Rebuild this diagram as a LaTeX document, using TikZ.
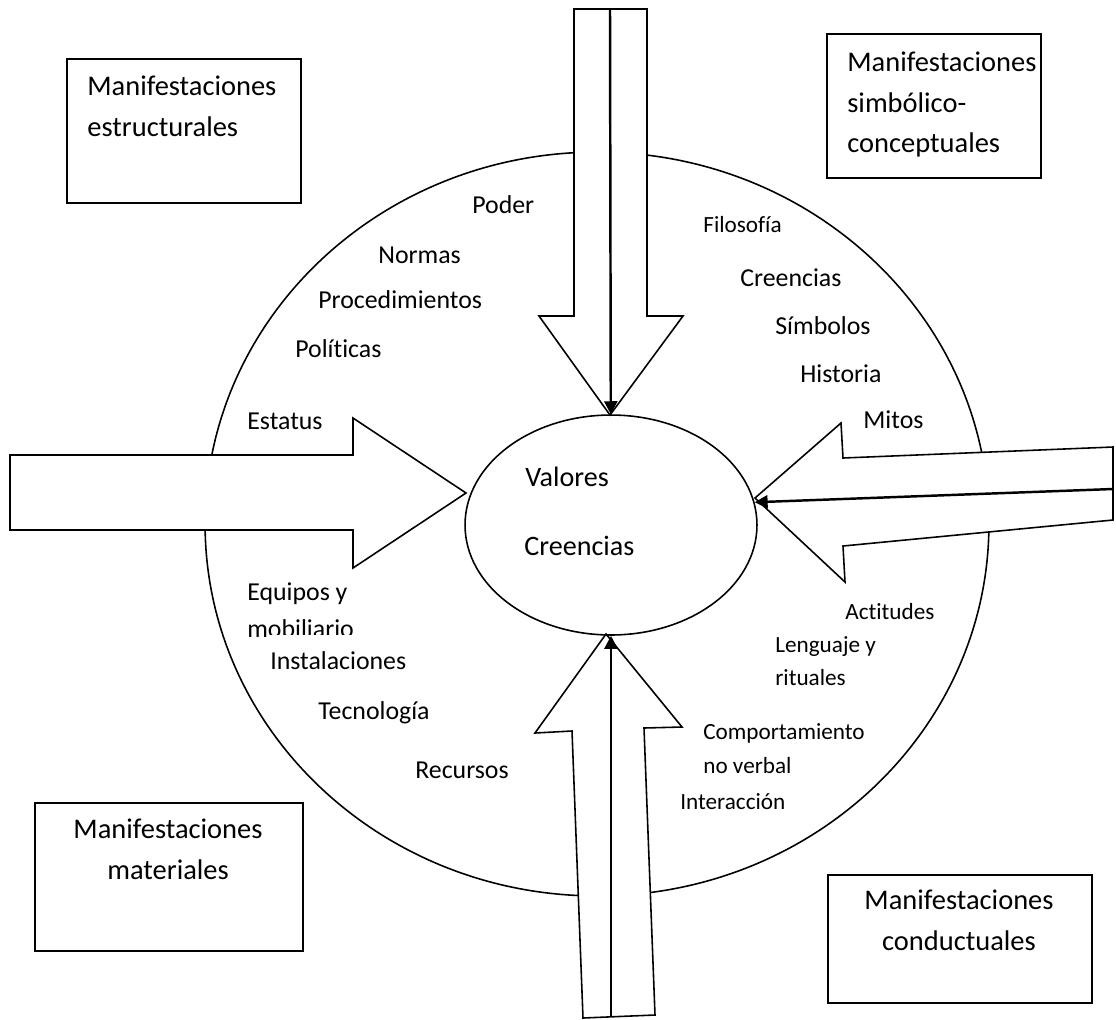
\documentclass[tikz,border=0pt]{standalone}
\usepackage{fontspec}
\setmainfont{Carlito}[Ligatures={NoCommon}]
\usetikzlibrary{arrows.meta, positioning, shapes.geometric}
\tikzset{
manbox/.style={
    rectangle,
    draw,
    line width=0.9pt,
    anchor=north west,
    inner sep=0pt
},
mantext/.style={
    font=\fontsize{16.2}{23}\selectfont,
    align=left,
    inner sep=0pt
},
lbl/.style={
    font=\fontsize{14.7}{19}\selectfont,
    anchor=base west,
    inner sep=0pt
},
lblsmall/.style={
    lbl,
    font=\fontsize{13.2}{18}\selectfont
},
blockarrow/.style={
    draw,
    fill=white,
    line width=0.9pt,
    line join=miter
},
midline/.style={
    -{Triangle[length=2.6mm, width=2.6mm]},
    line width=1.4pt
}}

\begin{document}
\begin{tikzpicture}[x=0.02cm, y=-0.02cm]
    \useasboundingbox (0,0) rectangle (1116,1019);

    % outer ring and core
    \node[ellipse, draw, line width=0.9pt, minimum width=15.68cm, minimum height=14.88cm, inner sep=0pt] (ring) at (597,524) {};

    % block arrows
    \draw[blockarrow] (574,9) -- (647,9) -- (647,316) -- (683,316) -- (610,415) -- (539,316) -- (574,316) -- cycle;
    \draw[blockarrow] (10,455) -- (353,455) -- (353,418) -- (466,493) -- (353,568) -- (353,530) -- (10,530) -- cycle;
    \draw[blockarrow] (755,498) -- (841,423) -- (843,458) -- (1113,447) -- (1113,520) -- (843,546) -- (845,582) -- cycle;
    \draw[blockarrow] (606,634) -- (682,727) -- (644,728) -- (655,1015) -- (583,1018) -- (572,731) -- (535,733) -- cycle;

    \node[ellipse, draw, line width=0.9pt, minimum width=5.84cm, minimum height=4.4cm, inner sep=0pt] (core) at (611,525) {};

    % lines into the core
    \coordinate (topin) at (610,9);
    \coordinate (rightin) at (1113,489);
    \coordinate (bottomin) at (611,1017);
    \draw[midline] (topin) -- (core);
    \draw[midline] (rightin) -- (core.9);
    \draw[midline] (bottomin) -- (core);

    % corner boxes
    \node[manbox, minimum width=4.68cm, minimum height=2.88cm] (estr) at (66,58) {};
    \node[manbox, minimum width=4.28cm, minimum height=2.88cm] (simb) at (826,33) {};
    \node[manbox, minimum width=5.36cm, minimum height=2.96cm] (mat) at (34,802) {};
    \node[manbox, minimum width=5.28cm, minimum height=2.56cm] (cond) at (827,874) {};

    \node[mantext, anchor=north west] (estrtxt) at (87,76) {Manifestaciones\\estructurales};
    \node[mantext, anchor=north west] (simbtxt) at (847,52) {Manifestaciones\\simbólico-\\conceptuales};
    \node[mantext, anchor=north, align=center] (mattxt) at (168,819) {Manifestaciones\\materiales};
    \node[mantext, anchor=north, align=center] (condtxt) at (959,890) {Manifestaciones\\conductuales};

    % center
    \node[lbl, font=\fontsize{16}{20}\selectfont] (valores) at (525,486) {Valores};
    \node[lbl, font=\fontsize{16}{20}\selectfont] (creencias) at (524,555) {Creencias};

    % structural
    \node[lbl] (poder) at (472,213) {Poder};
    \node[lbl] (normas) at (378,263) {Normas};
    \node[lbl] (proc) at (318,308) {Procedimientos};
    \node[lbl] (politicas) at (295,357) {Políticas};
    \node[lbl] (estatus) at (247,429) {Estatus};

    % material
    \node[lbl] (equipos) at (247,600) {Equipos y};
    \node[lbl] (mobil) at (247,637) {mobiliario};
    \node[lbl, fill=white, inner ysep=0.32cm] (instal) at (270,669) {Instalaciones};
    \node[lbl] (tecno) at (318,719) {Tecnología};
    \node[lbl] (recursos) at (415,778) {Recursos};

    % symbolic
    \node[lblsmall] (filo) at (703,232) {Filosofía};
    \node[lbl] (creen) at (740,286) {Creencias};
    \node[lbl] (simbolos) at (775,334) {Símbolos};
    \node[lbl] (historia) at (800,382) {Historia};
    \node[lbl] (mitos) at (863,428) {Mitos};

    % behavioural
    \node[lblsmall] (actitudes) at (845,619) {Actitudes};
    \node[lblsmall] (lenguaje) at (775,652) {Lenguaje y};
    \node[lblsmall] (rituales) at (775,685) {rituales};
    \node[lblsmall] (comport) at (703,739) {Comportamiento};
    \node[lblsmall] (noverbal) at (703,773) {no verbal};
    \node[lblsmall] (interac) at (680,809) {Interacción};

\end{tikzpicture}
\end{document}
